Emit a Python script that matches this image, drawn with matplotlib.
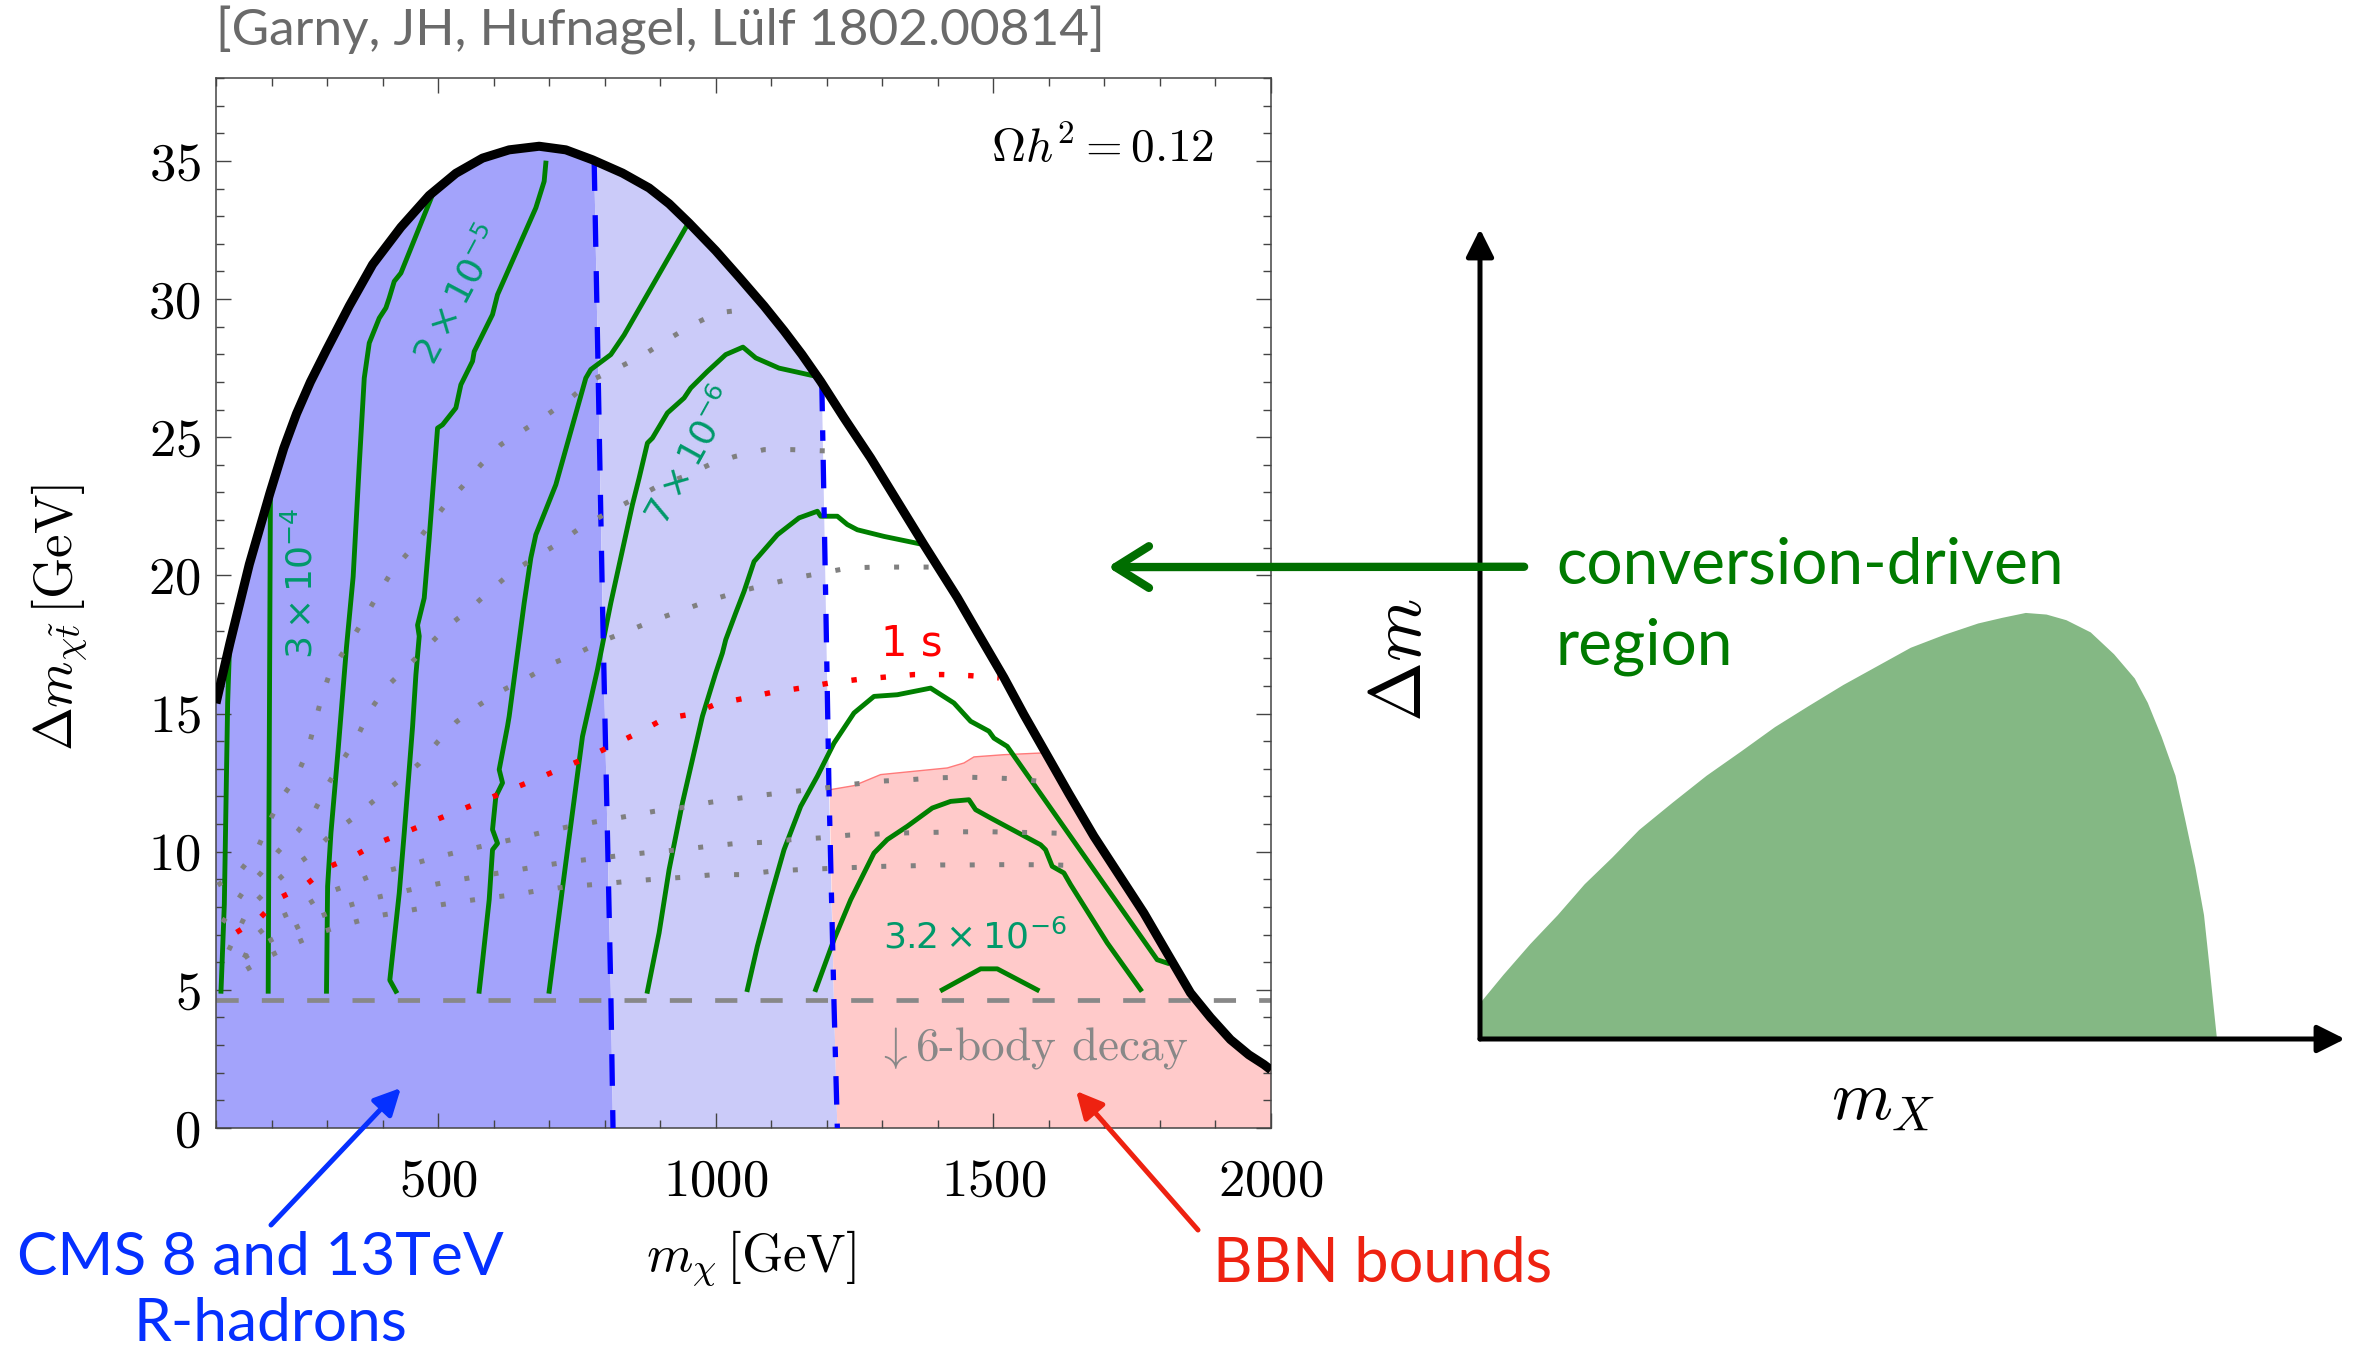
import numpy as np
import matplotlib.pyplot as plt
from matplotlib.patches import ArrowStyle

plt.rcParams['font.family'] = 'serif'
plt.rcParams['font.serif'] = ['cmr10']
plt.rcParams['mathtext.fontset'] = 'cm'
plt.rcParams['axes.formatter.use_mathtext'] = True

# Relic density line, Omega h^2 = 0.12
relic_m = np.array([100, 125, 160, 197, 222, 245, 270, 299, 340, 382, 433, 484, 532, 580, 628,
                    682, 730, 778, 832, 880, 916, 952, 1000, 1044, 1087, 1123, 1155, 1189, 1231,
                    1279, 1327, 1375, 1435, 1471, 1519, 1555, 1591, 1636, 1681, 1726, 1771, 1813,
                    1855, 1891, 1927, 1960, 1987, 2000])
relic_dm = np.array([15.37, 17.54, 20.4, 22.97, 24.6, 25.85, 27.0, 28.16, 29.75, 31.25, 32.6,
                     33.75, 34.55, 35.1, 35.4, 35.53, 35.4, 35.04, 34.56, 34.02, 33.45, 32.75,
                     31.75, 30.75, 29.75, 28.85, 28.0, 27.02, 25.7, 24.25, 22.68, 21.11, 19.2,
                     17.95, 16.3, 14.96, 13.69, 12.1, 10.56, 9.17, 7.78, 6.33, 4.89, 4.0, 3.2,
                     2.65, 2.3, 2.1])

# R-hadron limits (dashed and dash-dotted)
lhc_a_m = np.array([781, 796, 811, 815])
lhc_a_dm = np.array([35.06, 19.0, 5.0, 0.0])
lhc_b_m = np.array([1191, 1198, 1204, 1213, 1219])
lhc_b_dm = np.array([26.97, 19.2, 12.2, 4.5, 0.0])

# upper edge of the BBN excluded region
bbn_m = np.array([1205, 1249, 1297, 1417, 1447, 1465, 1519, 1585, 1591])
bbn_dm = np.array([12.24, 12.39, 12.79, 13.03, 13.21, 13.43, 13.51, 13.57, 13.62])

# coupling contours
c1_m = [109, 115, 121, 124]
c1_dm = [4.95, 8.1, 15.4, 17.2]
c2_m = [194, 196, 198]
c2_dm = [4.95, 14.0, 22.9]
c3_m = [299, 301, 307, 320, 335, 347, 358, 367, 376, 388, 394, 406, 412, 421, 433, 490]
c3_dm = [4.95, 8.75, 10.68, 13.7, 17.4, 19.95, 24.0, 27.14, 28.41, 29.01, 29.31, 29.68, 30.04,
         30.64, 30.94, 33.78]
c4_m = [424, 413, 430, 439, 454, 460, 466, 463, 475, 484, 499, 508, 532, 541, 562, 565, 598, 607,
        676, 691, 694]
c4_dm = [4.95, 5.35, 8.5, 10.68, 14.52, 16.4, 17.8, 18.2, 19.18, 21.35, 25.33, 25.45, 26.06, 26.9,
         27.75, 28.1, 29.44, 30.16, 33.3, 34.26, 34.92]
c5_m = [574, 580, 592, 598, 607, 598, 604, 616, 610, 625, 628, 655, 667, 676, 712, 766, 775, 811,
        835, 949]
c5_dm = [4.95, 6.03, 8.26, 10.07, 10.3, 10.8, 12.0, 12.49, 12.97, 14.54, 14.9, 19.0, 20.63, 21.47,
         23.28, 27.14, 27.45, 27.99, 28.7, 32.69]
c6_m = [700, 712, 730, 745, 760, 787, 811, 850, 862, 877, 886, 913, 943, 955, 985, 1018, 1049,
        1072, 1114, 1186]
c6_dm = [4.95, 6.82, 9.6, 11.88, 14.17, 16.59, 19.0, 22.56, 23.52, 24.79, 24.97, 25.88, 26.42,
         26.78, 27.38, 27.99, 28.26, 27.87, 27.5, 27.18]
c7_m = [877, 898, 916, 940, 976, 1000, 1012, 1018, 1036, 1051, 1069, 1111, 1150, 1183, 1189, 1219,
        1237, 1255, 1303, 1375]
c7_dm = [4.95, 7.06, 9.35, 11.76, 14.9, 16.47, 17.19, 17.67, 18.64, 19.42, 20.5, 21.47, 22.08,
         22.32, 22.14, 22.14, 21.84, 21.65, 21.41, 21.11]
c8_m = [1057, 1075, 1099, 1123, 1153, 1183, 1213, 1249, 1285, 1327, 1387, 1429, 1459, 1492, 1501,
        1525, 1795, 1813]
c8_dm = [5.01, 6.58, 8.38, 10.07, 11.64, 12.73, 13.93, 15.02, 15.62, 15.68, 15.92, 15.38, 14.72,
         14.36, 14.11, 13.81, 6.09, 5.97]
c9_m = [1180, 1213, 1243, 1285, 1309, 1345, 1390, 1423, 1456, 1468, 1495, 1585, 1594, 1606, 1627,
        1639, 1705, 1765]
c9_dm = [5.01, 6.82, 8.26, 9.95, 10.44, 10.92, 11.58, 11.82, 11.88, 11.52, 11.22, 10.25, 10.07,
         9.47, 9.23, 8.81, 6.7, 5.01]
c10_m = [1408, 1477, 1507, 1579]
c10_dm = [5.0, 5.76, 5.76, 5.0]

# lifetime contours (gray dotted) and the 1 s line (red dotted)
t1_m = [103, 144, 175, 195, 216, 245, 265, 278, 291, 307, 337, 364, 388, 415, 448, 478, 511, 544,
        577, 613, 655, 697, 739, 778, 823, 871, 913, 958, 1003, 1054]
t1_dm = [8.79, 9.31, 10.12, 11.05, 11.89, 12.71, 13.66, 14.65, 15.64, 16.59, 17.43, 18.34, 19.18,
         20.09, 20.87, 21.65, 22.5, 23.22, 24.0, 24.73, 25.27, 25.82, 26.42, 27.08, 27.5, 27.99,
         28.53, 29.07, 29.5, 29.62]
t2_m = [112, 147, 181, 212, 247, 279, 302, 328, 355, 377, 406, 442, 478, 514, 556, 592, 631, 673,
        718, 760, 805, 850, 895, 943, 988, 1034, 1087, 1138, 1189, 1240]
t2_dm = [7.44, 8.49, 9.23, 10.01, 10.73, 11.54, 12.45, 13.3, 14.18, 15.1, 15.94, 16.65, 17.37,
         18.1, 18.76, 19.42, 20.09, 20.63, 21.17, 21.78, 22.26, 22.74, 23.22, 23.58, 24.0, 24.3,
         24.55, 24.55, 24.51, 24.49]
t3_m = [123, 158, 193, 230, 271, 307, 348, 387, 427, 466, 499, 533, 574, 617, 663, 708, 754, 799,
        847, 895, 943, 990, 1040, 1090, 1141, 1192, 1240, 1291, 1342, 1393]
t3_dm = [6.44, 7.91, 8.62, 9.32, 9.91, 10.62, 11.23, 11.89, 12.53, 13.19, 13.97, 14.7, 15.31,
         15.85, 16.32, 16.83, 17.21, 17.65, 18.03, 18.42, 18.76, 19.1, 19.4, 19.66, 19.9, 20.09,
         20.27, 20.3, 20.3, 20.3]
t4_m = [151, 168, 207, 254, 297, 345, 392, 442, 491, 540, 590, 640, 690, 739, 789, 840, 889, 940,
        991, 1040, 1090, 1141, 1195, 1243, 1294, 1345, 1396, 1447, 1498, 1549, 1600]
t4_dm = [6.16, 6.9, 7.55, 7.96, 8.49, 8.84, 9.23, 9.48, 9.77, 10.01, 10.25, 10.47, 10.71, 10.92,
         11.1, 11.28, 11.46, 11.6, 11.79, 11.93, 12.06, 12.18, 12.3, 12.43, 12.55, 12.6, 12.67,
         12.7, 12.67, 12.63, 12.5]
t5_m = [151, 193, 238, 284, 332, 380, 430, 480, 530, 580, 631, 681, 732, 783, 832, 883, 934, 985,
        1033, 1087, 1138, 1189, 1240, 1291, 1342, 1393, 1444, 1495, 1546, 1597, 1648]
t5_dm = [6.16, 6.74, 7.2, 7.63, 8.01, 8.3, 8.53, 8.76, 8.96, 9.13, 9.3, 9.47, 9.63, 9.75, 9.87,
         9.98, 10.07, 10.19, 10.29, 10.34, 10.44, 10.5, 10.6, 10.64, 10.68, 10.7, 10.72, 10.72,
         10.7, 10.68, 10.65]
t6_m = [155, 200, 244, 291, 340, 389, 439, 490, 540, 590, 640, 691, 742, 793, 844, 895, 946, 997,
        1051, 1099, 1150, 1201, 1252, 1303, 1354, 1405, 1456, 1507, 1558, 1609, 1660]
t6_dm = [5.74, 6.26, 6.69, 7.1, 7.4, 7.67, 7.84, 8.03, 8.19, 8.33, 8.45, 8.63, 8.75, 8.83, 8.93,
         9.01, 9.08, 9.17, 9.17, 9.29, 9.35, 9.39, 9.43, 9.47, 9.49, 9.52, 9.52, 9.53, 9.53, 9.52,
         9.49]
t1s_m = [137, 180, 215, 261, 301, 347, 392, 439, 487, 534, 581, 628, 676, 724, 771, 816, 862, 907,
         957, 1003, 1054, 1102, 1153, 1204, 1255, 1306, 1357, 1408, 1459, 1510]
t1s_dm = [7.08, 7.62, 8.33, 8.79, 9.43, 9.83, 10.32, 10.69, 11.08, 11.46, 11.84, 12.23, 12.62,
          13.03, 13.43, 13.87, 14.32, 14.81, 14.98, 15.36, 15.56, 15.77, 15.92, 16.1, 16.23, 16.32,
          16.41, 16.41, 16.37, 16.29]

six_body_dm = 4.65

# schematic on the right (arbitrary units)
hump_x = [0.0, 0.027, 0.058, 0.090, 0.121, 0.153, 0.184, 0.223, 0.262, 0.302, 0.341, 0.380, 0.420,
          0.459, 0.498, 0.537, 0.576, 0.604, 0.631, 0.655, 0.678, 0.706, 0.733, 0.757, 0.772,
          0.788, 0.804, 0.815, 0.827, 0.837, 0.843, 0.848, 0.852]
hump_y = [0.044, 0.079, 0.117, 0.153, 0.191, 0.224, 0.258, 0.292, 0.325, 0.355, 0.385, 0.411,
          0.437, 0.460, 0.483, 0.499, 0.513, 0.520, 0.526, 0.524, 0.517, 0.502, 0.475, 0.445,
          0.415, 0.373, 0.325, 0.272, 0.212, 0.153, 0.093, 0.041, 0.0]

W, H = 2364, 1350
fig = plt.figure(figsize=(W / 100, H / 100), dpi=100)
ax = fig.add_axes([216 / W, 1 - 1128 / H, 1055 / W, 1050 / H])
ax.set_xlim(100, 2000)
ax.set_ylim(0, 38)

# shaded regions
m_lo, m_hi = 100, 2000
sel = relic_m < lhc_a_m[0]
ax.fill(np.r_[m_lo, relic_m[sel], lhc_a_m], np.r_[0, relic_dm[sel], lhc_a_dm],
        color='#a3a3fb', lw=0, zorder=1)
sel = (relic_m > lhc_a_m[0]) & (relic_m < lhc_b_m[0])
ax.fill(np.r_[lhc_a_m[::-1], relic_m[sel], lhc_b_m], np.r_[lhc_a_dm[::-1], relic_dm[sel], lhc_b_dm],
        color='#cbcbf9', lw=0, zorder=1)
sel = relic_m > bbn_m[-1]
ax.fill(np.r_[lhc_b_m[-1], lhc_b_m[-2], bbn_m, relic_m[sel], m_hi],
        np.r_[lhc_b_dm[-1], lhc_b_dm[-2], bbn_dm, relic_dm[sel], 0],
        color='#ffcaca', lw=0, zorder=1)
ax.plot(bbn_m, bbn_dm, color='#ff7a7a', lw=1, zorder=1.5)

# 6-body threshold
ax.axhline(six_body_dm, color='#888888', lw=3.4, ls=(0, (4.7, 4.9)), zorder=2)

green = '#007f00'
for xm, ydm in [(c1_m, c1_dm), (c2_m, c2_dm), (c3_m, c3_dm), (c4_m, c4_dm), (c5_m, c5_dm),
                (c6_m, c6_dm), (c7_m, c7_dm), (c8_m, c8_dm), (c9_m, c9_dm), (c10_m, c10_dm)]:
    ax.plot(xm, ydm, color=green, lw=3.5, zorder=3, solid_joinstyle='round')

ax.plot(lhc_a_m, lhc_a_dm, color='#0000ff', lw=3.8, ls=(0, (6, 4.6)), zorder=3.5)
ax.plot(lhc_b_m, lhc_b_dm, color='#0000ff', lw=3.8, ls=(0, (5.4, 3.6, 2, 3.6)), zorder=3.5)

for xm, ydm in [(t1_m, t1_dm), (t2_m, t2_dm), (t3_m, t3_dm), (t4_m, t4_dm), (t5_m, t5_dm),
                (t6_m, t6_dm)]:
    ax.plot(xm, ydm, color='#808080', lw=3.6, ls=(0, (1, 4.9)), zorder=4)
ax.plot(t1s_m, t1s_dm, color='#ff0000', lw=3.9, ls=(0, (1, 4.4)), zorder=4)

ax.plot(relic_m, relic_dm, color='black', lw=6.5, zorder=5, solid_capstyle='butt',
        solid_joinstyle='round')

# labels inside the plot
lab_c = '#00996a'
lab_kw = dict(color=lab_c, size=26, ha='center', va='center', math_fontfamily='dejavusans',
              zorder=6)
ax.text(254, 19.72, r'$3\times10^{-4}$', rotation=90, **lab_kw)
ax.text(538, 30.15, r'$2\times10^{-5}$', rotation=62, **lab_kw)
ax.text(957, 24.3, r'$7\times10^{-6}$', rotation=61, **lab_kw)
ax.text(1467, 6.91, r'$3.2\times10^{-6}$', **lab_kw)
ax.text(1353, 17.55, '1 s', color='#ff0000', family='DejaVu Sans', size=30, ha='center',
        va='center', zorder=6)
ax.text(1570, 2.89, r'$\downarrow$6-body decay', color='#888888', size=34, ha='center',
        va='center', zorder=6)
ax.text(1696, 35.5, r'$\Omega h^2 = 0.12$', size=34, ha='center', va='center', zorder=6)

# axes, ticks
ax.set_xticks([500, 1000, 1500, 2000])
ax.set_xticks(np.arange(100, 2001, 100), minor=True)
ax.set_yticks(np.arange(0, 36, 5))
ax.set_yticks(np.arange(0, 38.5, 1), minor=True)
ax.tick_params(which='both', direction='in', top=True, right=True, color='#444444', width=1.0)
ax.tick_params(which='major', length=11, labelsize=38)
ax.tick_params(which='minor', length=6)
ax.tick_params(axis='x', pad=22)
ax.tick_params(axis='y', pad=11)
for s in ax.spines.values():
    s.set_color('#444444')
    s.set_linewidth(1.1)

ax.text(0.507, -0.125, r'$m_\chi\,[\mathrm{GeV}]$', transform=ax.transAxes, size=38,
        ha='center', va='center')
ax.text(-0.148, 0.486, r'$\Delta m_{\chi\tilde{t}}\,[\mathrm{GeV}]$', transform=ax.transAxes,
        size=38, rotation=90, ha='center', va='center')

# callouts below the plot
ax.annotate('', xy=(433, 1.45), xytext=(271 / W, 1 - 1225 / H), textcoords='figure fraction',
            arrowprops=dict(arrowstyle='-|>', lw=3.6, color='#0530ff', mutation_scale=40,
                            shrinkA=0, shrinkB=0), zorder=7)
ax.annotate('', xy=(1649, 1.34), xytext=(1198 / W, 1 - 1230 / H), textcoords='figure fraction',
            arrowprops=dict(arrowstyle='-|>', lw=3.6, color='#ee2211', mutation_scale=40,
                            shrinkA=0, shrinkB=0), zorder=7)

fig.text(660 / W, 1 - 30 / H, '[Garny, JH, Hufnagel, Lülf 1802.00814]', family='Lato', size=37,
         color='#6a6a6a', ha='center', va='center')
fig.text(260 / W, 1 - 1275 / H, 'CMS 8 and 13TeV', family='Lato', size=43.5, color='#0530ff',
         ha='center', va='baseline')
fig.text(270 / W, 1 - 1341 / H, 'R-hadrons', family='Lato', size=43.5, color='#0530ff',
         ha='center', va='baseline')
fig.text(1383 / W, 1 - 1282 / H, 'BBN bounds', family='Lato', size=44, color='#ee2211',
         ha='center', va='baseline')
fig.text(1556 / W, 1 - 583 / H, 'conversion-driven', family='Lato', size=46, color='#007a00',
         ha='left', va='baseline')
fig.text(1556 / W, 1 - 664 / H, 'region', family='Lato', size=46, color='#007a00',
         ha='left', va='baseline')

# schematic
ax2 = fig.add_axes([1480 / W, 1 - 1039 / H, 865 / W, 810 / H])
ax2.set_xlim(0, 1)
ax2.set_ylim(0, 1)
ax2.axis('off')
ax2.fill(np.r_[hump_x, 0], np.r_[hump_y, 0], color='#84b884', lw=0, zorder=1)
for tip in [(1.0, 0.0), (0.0, 1.0)]:
    ax2.annotate('', xy=tip, xytext=(0, 0), annotation_clip=False,
                 arrowprops=dict(arrowstyle='-|>', lw=3.6, color='black', mutation_scale=42,
                                 shrinkA=0, shrinkB=0), zorder=3)
ax2.text(-0.090, 0.468, r'$\Delta m$', rotation=90, size=52, ha='center', va='center')
ax2.text(0.466, -0.079, r'$m_X$', size=50, ha='center', va='center')

ax2.annotate('', xy=(1706, 20.3), xycoords=ax.transData, xytext=(0.051, 0.583),
             textcoords='data', annotation_clip=False,
             arrowprops=dict(arrowstyle=ArrowStyle('->', head_length=0.4, head_width=0.25),
                             lw=6, color='#006e00', mutation_scale=60, shrinkA=0, shrinkB=0),
             zorder=4)

fig.savefig('out.png', dpi=100)
